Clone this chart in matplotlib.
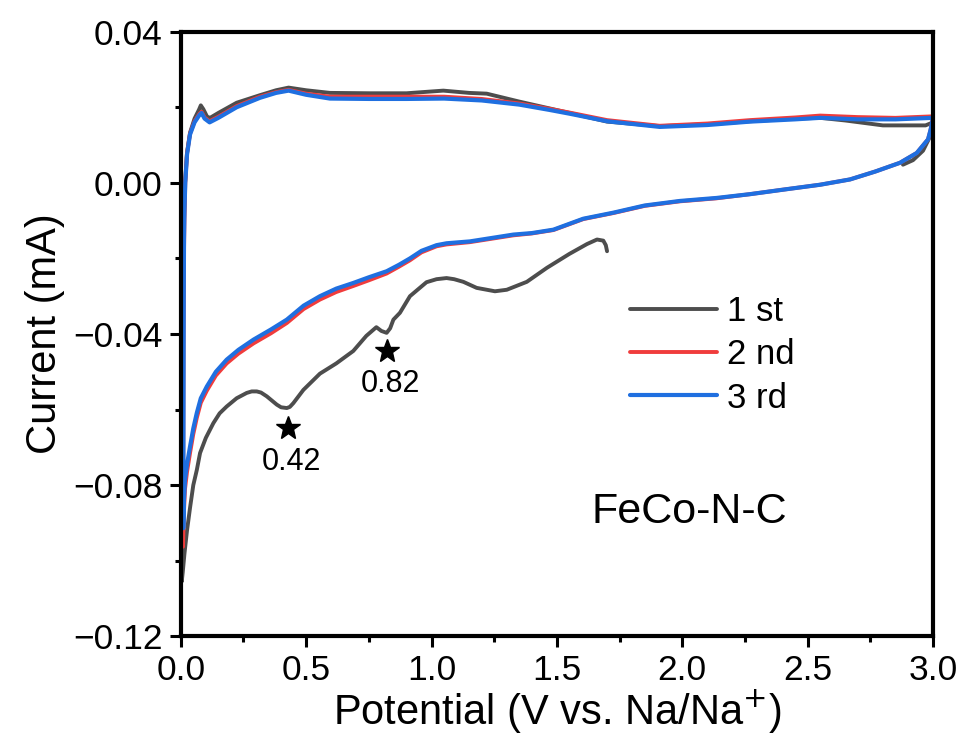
import matplotlib.pyplot as plt
from matplotlib.ticker import MultipleLocator

plt.rcParams['font.family'] = ['Liberation Sans', 'DejaVu Sans']

# 1st cycle: cathodic from OCV, anodic to 3.0 V, short return
v1 = [1.70, 1.695, 1.685, 1.66, 1.62, 1.55, 1.46, 1.38, 1.30, 1.253, 1.18, 1.127, 1.09,
      1.06, 1.02, 0.98, 0.914, 0.874, 0.848, 0.835, 0.821, 0.80, 0.78, 0.74, 0.688, 0.62,
      0.555, 0.489, 0.449, 0.435, 0.423, 0.40, 0.383, 0.343, 0.32, 0.303, 0.283, 0.263,
      0.223, 0.183, 0.155, 0.13, 0.10, 0.077, 0.064, 0.05, 0.037, 0.025, 0.015, 0.008,
      0.004,
      0.006, 0.008, 0.010, 0.013, 0.017, 0.025, 0.037, 0.055, 0.073, 0.08, 0.09, 0.105,
      0.117, 0.15, 0.223, 0.316, 0.38, 0.43, 0.50, 0.595, 0.755, 0.90, 1.047, 1.15, 1.22,
      1.35, 1.47, 1.55, 1.70, 1.91, 2.10, 2.27, 2.45, 2.55, 2.65, 2.80, 2.97, 3.0,
      2.99, 2.96, 2.92, 2.88]
i1 = [-0.0181, -0.0165, -0.0153, -0.0150, -0.0162, -0.0188, -0.0225, -0.0262, -0.0283,
      -0.0287, -0.0278, -0.0262, -0.0255, -0.0252, -0.0255, -0.0263, -0.0300, -0.0344,
      -0.0362, -0.0385, -0.0397, -0.0392, -0.0382, -0.0405, -0.0445, -0.0478, -0.0505,
      -0.0548, -0.0583, -0.0593, -0.0596, -0.0594, -0.0587, -0.0565, -0.0555, -0.0552,
      -0.0552, -0.0556, -0.0570, -0.0592, -0.0610, -0.0636, -0.0675, -0.0715, -0.0760,
      -0.0800, -0.0860, -0.0920, -0.0980, -0.1030, -0.1055,
      -0.0900, -0.0600, -0.0300, -0.0100, 0.0000, 0.0080, 0.0133, 0.0170, 0.0194,
      0.0205, 0.0195, 0.0175, 0.0172, 0.0185, 0.0212, 0.0232, 0.0245, 0.0252, 0.0245,
      0.0238, 0.0237, 0.0237, 0.0244, 0.0238, 0.0236, 0.0215, 0.0197, 0.0185, 0.0162,
      0.0150, 0.0155, 0.0163, 0.0170, 0.0172, 0.0165, 0.0152, 0.0152, 0.0160,
      0.0125, 0.0085, 0.0060, 0.0048]

# 2nd cycle
v2 = [3.0, 2.99, 2.98, 2.935, 2.868, 2.77, 2.669, 2.55, 2.403, 2.27, 2.137, 1.99, 1.85,
      1.725, 1.605, 1.486, 1.40, 1.326, 1.153, 1.06, 1.02, 0.96, 0.914, 0.87, 0.821,
      0.75, 0.688, 0.62, 0.555, 0.49, 0.423, 0.36, 0.29, 0.23, 0.183, 0.14, 0.104, 0.08,
      0.064, 0.05, 0.037, 0.025, 0.017, 0.012, 0.009,
      0.010, 0.011, 0.013, 0.015, 0.018, 0.025, 0.037, 0.055, 0.075, 0.083, 0.095,
      0.115, 0.15, 0.223, 0.316, 0.38, 0.43, 0.50, 0.595, 0.75, 0.90, 1.05, 1.20, 1.35,
      1.47, 1.55, 1.70, 1.91, 2.10, 2.27, 2.45, 2.55, 2.70, 2.85, 3.0]
i2 = [0.0175, 0.0140, 0.0115, 0.0079, 0.0053, 0.0030, 0.0009, -0.0005, -0.0018, -0.0030,
      -0.0041, -0.0049, -0.0061, -0.0080, -0.0096, -0.0125, -0.0134, -0.0139, -0.0157,
      -0.0163, -0.0168, -0.0184, -0.0205, -0.0222, -0.0240, -0.0258, -0.0273, -0.0289,
      -0.0309, -0.0334, -0.0371, -0.0398, -0.0425, -0.0452, -0.0478, -0.0510, -0.0550,
      -0.0582, -0.0622, -0.0665, -0.0715, -0.0765, -0.0810, -0.0880, -0.0963,
      -0.0700, -0.0400, -0.0180, -0.0080, 0.0000, 0.0078, 0.0130, 0.0163, 0.0183,
      0.0188, 0.0173, 0.0163, 0.0175, 0.0203, 0.0228, 0.0240, 0.0246, 0.0236, 0.0228,
      0.0228, 0.0228, 0.0228, 0.0222, 0.0210, 0.0196, 0.0186, 0.0166, 0.0151, 0.0157,
      0.0166, 0.0173, 0.0178, 0.0174, 0.0172, 0.0176]

# 3rd cycle
v3 = [3.0, 2.99, 2.98, 2.935, 2.868, 2.77, 2.669, 2.55, 2.403, 2.27, 2.137, 1.99, 1.85,
      1.725, 1.605, 1.486, 1.40, 1.326, 1.153, 1.06, 1.02, 0.96, 0.914, 0.87, 0.821,
      0.75, 0.688, 0.62, 0.555, 0.49, 0.423, 0.36, 0.29, 0.23, 0.183, 0.14, 0.104, 0.08,
      0.064, 0.05, 0.037, 0.025, 0.017, 0.012, 0.010,
      0.011, 0.012, 0.013, 0.015, 0.018, 0.025, 0.037, 0.055, 0.075, 0.083, 0.095,
      0.115, 0.15, 0.223, 0.316, 0.38, 0.43, 0.50, 0.595, 0.75, 0.90, 1.05, 1.20, 1.35,
      1.47, 1.55, 1.70, 1.91, 2.10, 2.27, 2.45, 2.55, 2.70, 2.85, 3.0]
i3 = [0.0172, 0.0140, 0.0115, 0.0079, 0.0053, 0.0030, 0.0009, -0.0005, -0.0018, -0.0030,
      -0.0040, -0.0048, -0.0060, -0.0079, -0.0095, -0.0124, -0.0133, -0.0137, -0.0155,
      -0.0160, -0.0165, -0.0180, -0.0200, -0.0217, -0.0234, -0.0250, -0.0265, -0.0280,
      -0.0300, -0.0325, -0.0362, -0.0388, -0.0415, -0.0442, -0.0468, -0.0500, -0.0539,
      -0.0570, -0.0609, -0.0650, -0.0698, -0.0745, -0.0786, -0.0850, -0.0914,
      -0.0600, -0.0300, -0.0150, -0.0070, 0.0000, 0.0075, 0.0128, 0.0160, 0.0180,
      0.0185, 0.0170, 0.0160, 0.0172, 0.0200, 0.0225, 0.0238, 0.0244, 0.0233, 0.0223,
      0.0222, 0.0222, 0.0223, 0.0218, 0.0207, 0.0193, 0.0183, 0.0163, 0.0148, 0.0153,
      0.0162, 0.0168, 0.0172, 0.0168, 0.0168, 0.0172]

peak_v = [0.428, 0.823]
peak_i = [-0.0650, -0.0444]
peak_labels = ['0.42', '0.82']

fig = plt.figure(figsize=(9.63, 7.49), dpi=100)
ax = fig.add_axes([0.1877, 0.1505, 0.7812, 0.8072])

ax.plot(v1, i1, color='#4d4d4d', lw=2.8, label='1 st', solid_capstyle='round', solid_joinstyle='round')
ax.plot(v2, i2, color='#f03c3c', lw=2.8, label='2 nd', solid_capstyle='round', solid_joinstyle='round')
ax.plot(v3, i3, color='#1f6fe0', lw=3.0, label='3 rd', solid_capstyle='round', solid_joinstyle='round')

ax.plot(peak_v, peak_i, ls='none', marker='*', ms=18, color='black')
for v, i, t in zip(peak_v, peak_i, peak_labels):
    ax.text(v + 0.015, i - 0.0050, t, fontsize=22, ha='center', va='top')

ax.text(0.676, 0.205, 'FeCo-N-C', transform=ax.transAxes, fontsize=31, ha='center', va='center')

ax.set_xlim(0, 3.0)
ax.set_ylim(-0.12, 0.04)
ax.xaxis.set_minor_locator(MultipleLocator(0.25))
ax.yaxis.set_minor_locator(MultipleLocator(0.02))
ax.set_xticks([0.0, 0.5, 1.0, 1.5, 2.0, 2.5, 3.0])
ax.set_xticklabels(['0.0', '0.5', '1.0', '1.5', '2.0', '2.5', '3.0'])
ax.set_yticks([-0.12, -0.08, -0.04, 0.00, 0.04])
ax.set_yticklabels(['\u22120.12', '\u22120.08', '\u22120.04', '0.00', '0.04'])

ax.tick_params(which='major', direction='out', length=8, width=2.2, labelsize=25.5, pad=5)
ax.tick_params(which='minor', direction='out', length=4.5, width=2.2)
for s in ax.spines.values():
    s.set_linewidth(3)

ax.set_xlabel('Potential (V vs. Na/Na$^{+}$)', fontsize=30, labelpad=0)
ax.set_ylabel('Current (mA)', fontsize=30, labelpad=6)

ax.legend(loc='upper left', bbox_to_anchor=(0.597, 0.565), frameon=False, fontsize=25,
          handlelength=2.5, handletextpad=0.3, labelspacing=0.3, borderpad=0,
          borderaxespad=0)

fig.savefig('out.png', dpi=100)
